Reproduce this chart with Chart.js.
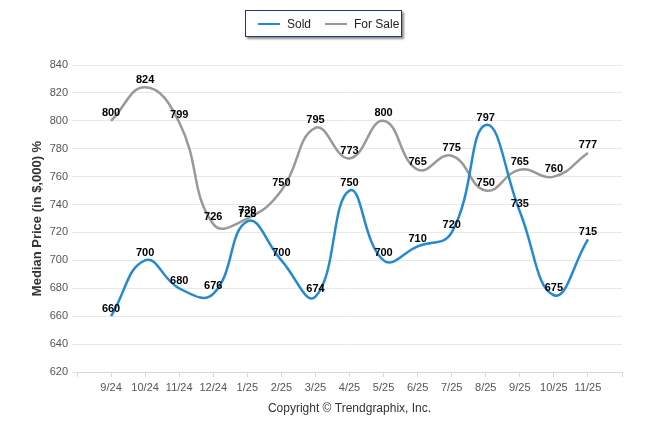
<!DOCTYPE html>
<html>
<head>
<meta charset="utf-8">
<script src="https://cdn.jsdelivr.net/npm/chart.js@4.4.1/dist/chart.umd.min.js"></script>
<style>
  html, body { margin: 0; padding: 0; background: #fff; }
  #wrap { position: relative; width: 646px; height: 434px; }
  #legend {
    position: absolute; left: 245px; top: 10px; width: 157px; height: 27px;
    border: 1px solid #1c3b6b; background: #fff;
    box-shadow: 2px 2px 2px rgba(0,0,0,0.45);
    font: 12px "Liberation Sans", Arial, sans-serif; color: #222;
    display: flex; align-items: center; box-sizing: border-box; padding-left: 12px;
    white-space: nowrap;
  }
  .item { display: flex; align-items: center; margin-right: 14px; }
  .swatch { width: 22px; height: 2px; margin-right: 7px; }
</style>
</head>
<body>
<div id="wrap">
  <canvas id="chart" width="646" height="434"></canvas>
  <div id="legend">
    <div class="item"><span class="swatch" style="background:#2389d3"></span>Sold</div>
    <div class="item"><span class="swatch" style="background:#999"></span>For Sale</div>
  </div>
</div>
<script>
// --- Data ---
const months  = ["9/24", "10/24", "11/24", "12/24", "1/25", "2/25", "3/25", "4/25", "5/25", "6/25", "7/25", "8/25", "9/25", "10/25", "11/25"];
const sold    = [660, 700, 680, 676, 728, 700, 674, 750, 700, 710, 720, 797, 735, 675, 715];
const forSale = [800, 824, 799, 726, 730, 750, 795, 773, 800, 765, 775, 750, 765, 760, 777];
const yTicks  = [620, 640, 660, 680, 700, 720, 740, 760, 780, 800, 820, 840];

// axis has an empty slot on each side
const labels = ["", ...months, ""];
const pad = (arr) => [null, ...arr, null];

const FONT = "'Liberation Sans', Arial, sans-serif";

// --- Value labels above each point ---
const valueLabels = {
  id: "valueLabels",
  afterDatasetsDraw(chart) {
    const ctx = chart.ctx;
    ctx.save();
    ctx.font = "bold 11px " + FONT;
    ctx.fillStyle = "#000";
    ctx.textAlign = "center";
    ctx.textBaseline = "bottom";
    chart.data.datasets.forEach((ds, i) => {
      chart.getDatasetMeta(i).data.forEach((pt, j) => {
        const v = ds.data[j];
        if (v == null) return;
        ctx.fillText(String(v), pt.x, pt.y - 2);
      });
    });
    ctx.restore();
  }
};

new Chart(document.getElementById("chart"), {
  type: "line",
  data: {
    labels,
    datasets: [
      { label: "Sold", data: pad(sold), borderColor: "#2389d3", borderWidth: 2.5, tension: 0.45, pointRadius: 0, fill: false },
      { label: "For Sale", data: pad(forSale), borderColor: "#999999", borderWidth: 2.5, tension: 0.45, pointRadius: 0, fill: false },
    ],
  },
  options: {
    responsive: false,
    animation: false,
    layout: { padding: { top: 65, right: 24, left: 0, bottom: 18 } },
    plugins: { legend: { display: false }, tooltip: { enabled: false } },
    scales: {
      x: {
        offset: false,
        grid: { drawOnChartArea: false, drawTicks: true, tickLength: 5, color: "#d8d8d8" },
        border: { color: "#d8d8d8" },
        ticks: { color: "#555", font: { family: FONT, size: 11 }, autoSkip: false, maxRotation: 0, padding: 4 },
        title: { display: true, text: "Copyright © Trendgraphix, Inc.", color: "#333", font: { family: FONT, size: 12 }, padding: { top: 6, bottom: 0 } },
        afterFit: (s) => { s.height = 44; },
      },
      y: {
        min: 620, max: 840,
        afterBuildTicks: (s) => { s.ticks = yTicks.map(v => ({ value: v })); },
        grid: { color: "#e8e8e8", tickLength: 5, tickColor: "#e8e8e8" },
        border: { display: false },
        ticks: { color: "#555", font: { family: FONT, size: 11 }, padding: 4 },
        title: { display: true, text: "Median Price (in $,000) %", color: "#333", font: { family: FONT, size: 13, weight: "bold" }, padding: { top: 30, bottom: 0 } },
        afterFit: (s) => { s.width = 77; },
      },
    },
  },
  plugins: [valueLabels],
});
</script>
</body>
</html>
